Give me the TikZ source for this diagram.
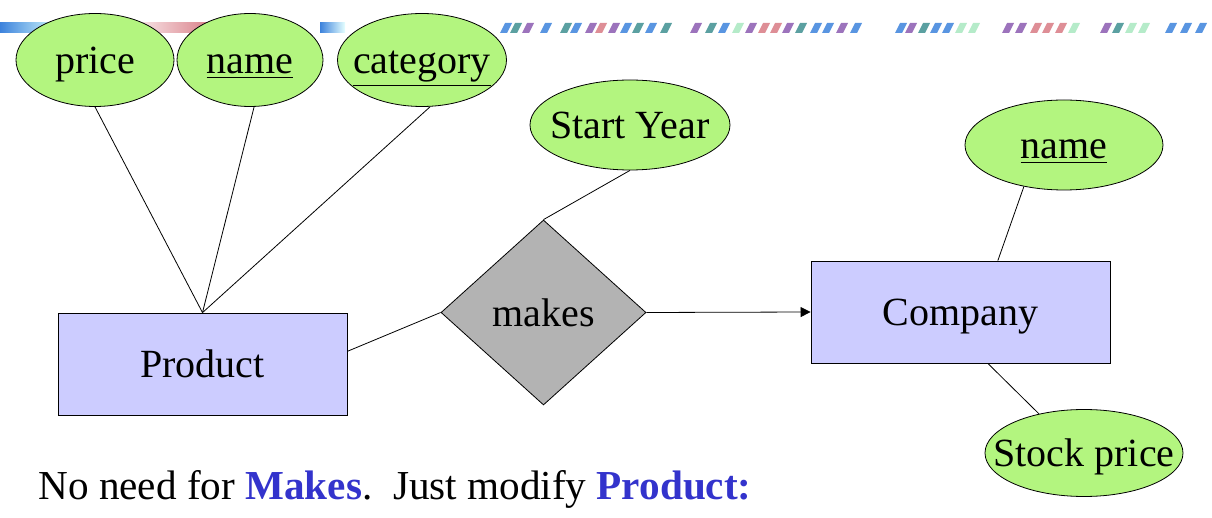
\documentclass[tikz,border=0pt]{standalone}
\usepackage{fontspec}
\setmainfont{Liberation Serif}
\usetikzlibrary{shapes.geometric,arrows.meta}
\definecolor{attrgreen}{HTML}{B3F57F}
\definecolor{entblue}{HTML}{CCCCFF}
\definecolor{relgray}{HTML}{B3B3B3}
\definecolor{kwblue}{HTML}{3333CC}
\definecolor{bandblue}{HTML}{3C82DC}
\definecolor{bandred}{HTML}{D87A84}
\definecolor{bandpurple}{HTML}{8A5AB0}
\definecolor{bandteal}{HTML}{3E8F90}
\definecolor{bandmint}{HTML}{A8E8C0}

\begin{document}
\begin{tikzpicture}[x=0.5pt,y=-0.5pt,
    attribute/.style ={ellipse, draw, fill=attrgreen, inner sep=0pt, text height=14pt, text depth=0pt, font=\fontsize{20}{22}\selectfont},
    entity/.style ={rectangle, draw, fill=entblue, inner sep=0pt, minimum height=51pt, text height=14pt, text depth=0pt, font=\fontsize{20}{22}\selectfont},
    relation/.style ={diamond, draw, fill=relgray, inner sep=0pt, minimum width=102.5pt, minimum height=92.5pt, text height=14pt, text depth=0pt, font=\fontsize{20}{22}\selectfont}]
   \useasboundingbox (0,0) rectangle (1212,518);
   % banner
   \shade[left color=bandblue, right color=cyan!15] (0,23) rectangle (60,33);
   \shade[left color=white, right color=bandred] (120,23) rectangle (215,33);
   \shade[left color=bandblue, right color=cyan!10] (320,23) rectangle (345,33);
   \foreach \x/\c in {500/bandblue,510/bandteal,522/bandpurple,540/bandblue,560/bandteal,
       570/bandblue,585/bandpurple,595/bandred,608/bandpurple,620/bandblue,632/bandteal,
       645/bandblue,660/bandteal,690/bandpurple,705/bandteal,718/bandblue,732/bandmint,
       745/bandpurple,758/bandred,770/bandred,782/bandpurple,795/bandteal,810/bandblue,
       822/bandblue,836/bandpurple,850/bandblue,895/bandblue,905/bandpurple,918/bandteal,
       930/bandblue,942/bandblue,955/bandmint,968/bandmint,1002/bandpurple,1015/bandpurple,
       1030/bandred,1042/bandred,1055/bandred,1068/bandmint,1100/bandpurple,1112/bandteal,
       1125/bandmint,1138/bandmint,1165/bandblue,1180/bandblue,1195/bandblue}
     \fill[\c!85] (\x,33) -- ++(7,0) -- ++(5,-10) -- ++(-7,0) -- cycle;
   % nodes
   \node[attribute, minimum width=79pt, minimum height=46.5pt] (price) at (95,60) {\makebox[0pt]{price}};
   \node[attribute, minimum width=73pt, minimum height=46.5pt] (pname) at (250,60) {\makebox[0pt]{\underline{name}}};
   \node[attribute, minimum width=84.5pt, minimum height=46.5pt] (category) at (422,60) {\makebox[0pt]{\underline{category}}};
   \node[attribute, minimum width=100pt, minimum height=45pt] (year) at (630,125) {\makebox[0pt]{Start Year}};
   \node[attribute, minimum width=99pt, minimum height=45pt] (cname) at (1064,145) {\makebox[0pt]{\underline{name}}};
   \node[attribute, minimum width=99pt, minimum height=43.5pt] (stock) at (1084,453) {\makebox[0pt]{Stock price}};
   \node[entity, minimum width=144.5pt] (product) at (202.5,364) {Product};
   \node[entity, minimum width=149.5pt] (company) at (960.5,312) {Company};
   \node[relation] (makes) at (543.5,312.5) {makes};
   \node[anchor=base west, inner sep=0pt, font=\fontsize{20.6}{22}\selectfont] (note) at (38,500)
     {No need for \textcolor{kwblue}{\textbf{Makes}}.\ \ Just modify \textcolor{kwblue}{\textbf{Product:}}};
   % edges
   \draw (product.north) -- (price.south);
   \draw (product.north) -- (pname.-85);
   \draw (product.north) -- (category.-80);
   \draw (product.5) -- (makes.west);
   \draw (makes.north) -- (year.south);
   \draw[-{Triangle[length=5pt,width=5pt]}] (makes.east) -- (company.west);
   \draw (company.54) -- (cname.226);
   \draw (company.-62) -- (stock.139);
 \end{tikzpicture}
\end{document}
